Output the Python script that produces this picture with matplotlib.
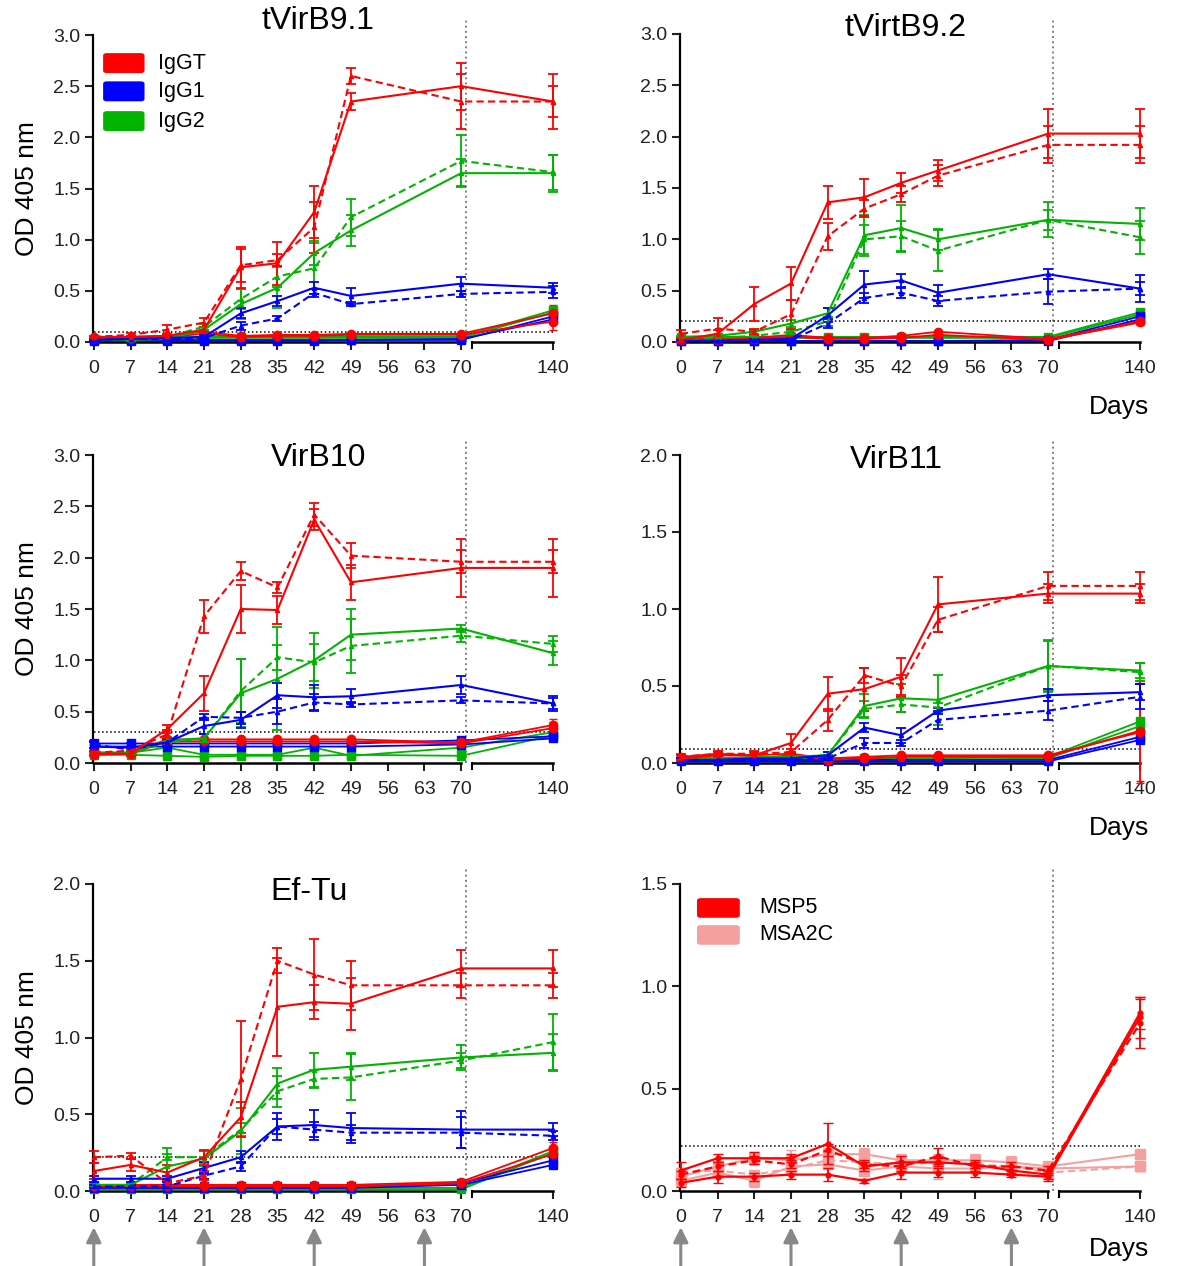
import matplotlib.pyplot as plt
from matplotlib.patches import FancyBboxPatch

plt.rcParams['font.family'] = ['Liberation Sans', 'DejaVu Sans']

# sampling days (day 140 sits after the axis break)
days = [0, 7, 14, 21, 28, 35, 42, 49, 70, 140]
days_msp = [0, 7, 14, 21, 28, 35, 42, 49, 56, 63, 70, 140]
tick_days = [0, 7, 14, 21, 28, 35, 42, 49, 56, 63, 70, 140]
boost_days = [0, 21, 42, 63]

# _a = solid group, _b = dashed group, _c1/_c2 = control animals
tvirb91 = {
    'IgGT_a': [0.05, 0.05, 0.06, 0.12, 0.73, 0.77, 1.27, 2.35, 2.50, 2.35],
    'IgGT_a_err': [0.01, 0.01, 0.02, 0.03, 0.20, 0.21, 0.25, 0.08, 0.23, 0.27],
    'IgGT_b': [0.05, 0.07, 0.12, 0.19, 0.75, 0.80, 1.12, 2.60, 2.35, 2.35],
    'IgGT_b_err': [0.01, 0.02, 0.05, 0.04, 0.16, 0.06, 0.25, 0.08, 0.27, 0.15],
    'IgG1_a': [0.02, 0.03, 0.04, 0.05, 0.28, 0.40, 0.53, 0.45, 0.57, 0.53],
    'IgG1_a_err': [0.01, 0.01, 0.01, 0.02, 0.05, 0.05, 0.06, 0.08, 0.07, 0.05],
    'IgG1_b': [0.02, 0.03, 0.03, 0.04, 0.16, 0.23, 0.48, 0.37, 0.47, 0.49],
    'IgG1_b_err': [0.01, 0.01, 0.01, 0.01, 0.04, 0.02, 0.04, 0.02, 0.03, 0.06],
    'IgG2_a': [0.02, 0.02, 0.03, 0.12, 0.37, 0.53, 0.87, 1.09, 1.65, 1.65],
    'IgG2_a_err': [0.01, 0.01, 0.01, 0.03, 0.15, 0.20, 0.12, 0.15, 0.14, 0.18],
    'IgG2_b': [0.02, 0.03, 0.05, 0.15, 0.42, 0.64, 0.72, 1.22, 1.77, 1.66],
    'IgG2_b_err': [0.01, 0.01, 0.01, 0.03, 0.10, 0.10, 0.25, 0.18, 0.25, 0.17],
    'IgGT_c1': [0.05, 0.05, 0.06, 0.10, 0.06, 0.07, 0.07, 0.08, 0.08, 0.28],
    'IgGT_c2': [0.04, 0.04, 0.05, 0.08, 0.05, 0.06, 0.06, 0.07, 0.07, 0.20],
    'IgG1_c1': [0.02, 0.02, 0.02, 0.02, 0.02, 0.02, 0.02, 0.02, 0.03, 0.22],
    'IgG1_c2': [0.01, 0.01, 0.01, 0.01, 0.01, 0.01, 0.01, 0.02, 0.02, 0.25],
    'IgG2_c1': [0.03, 0.03, 0.04, 0.05, 0.05, 0.05, 0.05, 0.05, 0.05, 0.31],
    'IgG2_c2': [0.02, 0.02, 0.03, 0.04, 0.04, 0.04, 0.04, 0.04, 0.04, 0.29],
    'ctrl_err_140': 0.08,
}

tvirb92 = {
    'IgGT_a': [0.02, 0.08, 0.37, 0.57, 1.36, 1.41, 1.55, 1.67, 2.03, 2.03],
    'IgGT_a_err': [0.02, 0.04, 0.17, 0.16, 0.16, 0.18, 0.10, 0.10, 0.24, 0.24],
    'IgGT_b': [0.08, 0.13, 0.10, 0.27, 1.03, 1.30, 1.44, 1.62, 1.92, 1.92],
    'IgGT_b_err': [0.04, 0.10, 0.03, 0.14, 0.13, 0.08, 0.08, 0.10, 0.18, 0.18],
    'IgG1_a': [0.01, 0.01, 0.02, 0.03, 0.26, 0.56, 0.60, 0.48, 0.66, 0.52],
    'IgG1_a_err': [0.01, 0.01, 0.01, 0.01, 0.07, 0.13, 0.06, 0.08, 0.05, 0.13],
    'IgG1_b': [0.01, 0.01, 0.02, 0.02, 0.18, 0.43, 0.48, 0.40, 0.49, 0.52],
    'IgG1_b_err': [0.01, 0.01, 0.01, 0.01, 0.04, 0.05, 0.05, 0.05, 0.12, 0.06],
    'IgG2_a': [0.05, 0.06, 0.10, 0.18, 0.28, 1.04, 1.11, 1.00, 1.19, 1.15],
    'IgG2_a_err': [0.01, 0.01, 0.02, 0.03, 0.05, 0.20, 0.22, 0.10, 0.17, 0.16],
    'IgG2_b': [0.03, 0.04, 0.06, 0.10, 0.20, 1.00, 1.03, 0.89, 1.19, 1.02],
    'IgG2_b_err': [0.01, 0.01, 0.01, 0.02, 0.04, 0.14, 0.15, 0.20, 0.10, 0.16],
    'IgGT_c1': [0.03, 0.03, 0.04, 0.07, 0.04, 0.04, 0.06, 0.10, 0.03, 0.20],
    'IgGT_c2': [0.02, 0.02, 0.03, 0.05, 0.03, 0.03, 0.04, 0.07, 0.02, 0.19],
    'IgG1_c1': [0.01, 0.01, 0.01, 0.01, 0.01, 0.01, 0.01, 0.01, 0.02, 0.25],
    'IgG1_c2': [0.01, 0.01, 0.01, 0.01, 0.01, 0.01, 0.01, 0.01, 0.01, 0.22],
    'IgG2_c1': [0.05, 0.05, 0.05, 0.05, 0.05, 0.05, 0.05, 0.05, 0.05, 0.29],
    'IgG2_c2': [0.03, 0.03, 0.04, 0.04, 0.04, 0.04, 0.04, 0.04, 0.04, 0.27],
    'ctrl_err_140': 0.02,
}

virb10 = {
    'IgGT_a': [0.09, 0.09, 0.33, 0.68, 1.50, 1.49, 2.37, 1.76, 1.90, 1.90],
    'IgGT_a_err': [0.02, 0.02, 0.04, 0.17, 0.23, 0.14, 0.10, 0.17, 0.28, 0.28],
    'IgGT_b': [0.10, 0.12, 0.28, 1.43, 1.87, 1.71, 2.42, 2.02, 1.96, 1.96],
    'IgGT_b_err': [0.02, 0.02, 0.04, 0.16, 0.09, 0.05, 0.11, 0.12, 0.11, 0.11],
    'IgG1_a': [0.16, 0.15, 0.20, 0.36, 0.42, 0.66, 0.64, 0.65, 0.76, 0.58],
    'IgG1_a_err': [0.04, 0.04, 0.03, 0.08, 0.08, 0.12, 0.12, 0.07, 0.09, 0.07],
    'IgG1_b': [0.18, 0.13, 0.20, 0.45, 0.44, 0.50, 0.59, 0.57, 0.61, 0.58],
    'IgG1_b_err': [0.03, 0.03, 0.03, 0.03, 0.06, 0.12, 0.08, 0.02, 0.03, 0.05],
    'IgG2_a': [0.10, 0.10, 0.22, 0.24, 0.68, 0.82, 1.00, 1.25, 1.31, 1.07],
    'IgG2_a_err': [0.02, 0.02, 0.03, 0.04, 0.33, 0.50, 0.27, 0.25, 0.03, 0.12],
    'IgG2_b': [0.10, 0.10, 0.20, 0.24, 0.70, 1.03, 0.98, 1.14, 1.24, 1.16],
    'IgG2_b_err': [0.02, 0.02, 0.03, 0.04, 0.31, 0.12, 0.18, 0.26, 0.06, 0.08],
    'IgGT_c1': [0.10, 0.10, 0.23, 0.23, 0.23, 0.23, 0.23, 0.23, 0.20, 0.37],
    'IgGT_c2': [0.08, 0.09, 0.21, 0.21, 0.21, 0.21, 0.21, 0.21, 0.19, 0.34],
    'IgG1_c1': [0.19, 0.19, 0.19, 0.19, 0.19, 0.19, 0.19, 0.19, 0.22, 0.26],
    'IgG1_c2': [0.16, 0.16, 0.16, 0.16, 0.16, 0.16, 0.16, 0.16, 0.18, 0.24],
    'IgG2_c1': [0.10, 0.10, 0.15, 0.08, 0.08, 0.08, 0.15, 0.07, 0.15, 0.30],
    'IgG2_c2': [0.08, 0.08, 0.07, 0.06, 0.07, 0.07, 0.07, 0.08, 0.07, 0.27],
    'ctrl_err_140': 0.06,
}

virb11 = {
    'IgGT_a': [0.03, 0.05, 0.05, 0.13, 0.45, 0.48, 0.56, 1.03, 1.10, 1.10],
    'IgGT_a_err': [0.02, 0.02, 0.02, 0.06, 0.11, 0.14, 0.12, 0.18, 0.06, 0.06],
    'IgGT_b': [0.04, 0.06, 0.06, 0.07, 0.28, 0.57, 0.50, 0.93, 1.15, 1.15],
    'IgGT_b_err': [0.02, 0.02, 0.02, 0.02, 0.07, 0.05, 0.07, 0.08, 0.09, 0.09],
    'IgG1_a': [0.02, 0.02, 0.03, 0.03, 0.05, 0.23, 0.18, 0.34, 0.44, 0.46],
    'IgG1_a_err': [0.01, 0.01, 0.01, 0.01, 0.02, 0.03, 0.05, 0.02, 0.04, 0.05],
    'IgG1_b': [0.02, 0.02, 0.02, 0.02, 0.03, 0.13, 0.13, 0.28, 0.34, 0.43],
    'IgG1_b_err': [0.01, 0.01, 0.01, 0.01, 0.01, 0.03, 0.02, 0.06, 0.06, 0.08],
    'IgG2_a': [0.02, 0.03, 0.04, 0.04, 0.05, 0.37, 0.42, 0.41, 0.63, 0.60],
    'IgG2_a_err': [0.01, 0.01, 0.01, 0.01, 0.02, 0.08, 0.09, 0.16, 0.17, 0.05],
    'IgG2_b': [0.02, 0.02, 0.03, 0.04, 0.05, 0.35, 0.38, 0.36, 0.63, 0.59],
    'IgG2_b_err': [0.01, 0.01, 0.01, 0.01, 0.02, 0.05, 0.05, 0.03, 0.16, 0.06],
    'IgGT_c1': [0.04, 0.06, 0.05, 0.06, 0.03, 0.04, 0.05, 0.05, 0.05, 0.20],
    'IgGT_c2': [0.03, 0.03, 0.03, 0.05, 0.02, 0.03, 0.04, 0.04, 0.04, 0.21],
    'IgG1_c1': [0.02, 0.02, 0.02, 0.02, 0.02, 0.02, 0.02, 0.02, 0.02, 0.17],
    'IgG1_c2': [0.01, 0.01, 0.01, 0.01, 0.01, 0.01, 0.01, 0.01, 0.01, 0.15],
    'IgG2_c1': [0.03, 0.03, 0.03, 0.03, 0.03, 0.03, 0.03, 0.03, 0.04, 0.27],
    'IgG2_c2': [0.02, 0.02, 0.02, 0.02, 0.02, 0.02, 0.02, 0.02, 0.03, 0.24],
    'ctrl_err_140': 0.33,
}

eftu = {
    'IgGT_a': [0.13, 0.17, 0.12, 0.22, 0.48, 1.20, 1.23, 1.22, 1.45, 1.45],
    'IgGT_a_err': [0.05, 0.04, 0.05, 0.05, 0.10, 0.32, 0.11, 0.17, 0.12, 0.12],
    'IgGT_b': [0.22, 0.23, 0.05, 0.10, 0.73, 1.50, 1.41, 1.34, 1.34, 1.34],
    'IgGT_b_err': [0.04, 0.02, 0.02, 0.03, 0.38, 0.08, 0.23, 0.16, 0.08, 0.08],
    'IgG1_a': [0.08, 0.08, 0.08, 0.15, 0.22, 0.42, 0.43, 0.41, 0.40, 0.40],
    'IgG1_a_err': [0.02, 0.02, 0.02, 0.04, 0.04, 0.09, 0.10, 0.10, 0.12, 0.04],
    'IgG1_b': [0.03, 0.03, 0.03, 0.10, 0.16, 0.42, 0.40, 0.38, 0.38, 0.36],
    'IgG1_b_err': [0.01, 0.01, 0.01, 0.02, 0.03, 0.05, 0.05, 0.05, 0.10, 0.03],
    'IgG2_a': [0.04, 0.04, 0.16, 0.21, 0.39, 0.70, 0.79, 0.81, 0.87, 0.90],
    'IgG2_a_err': [0.01, 0.01, 0.12, 0.05, 0.15, 0.10, 0.11, 0.09, 0.08, 0.12],
    'IgG2_b': [0.03, 0.04, 0.22, 0.22, 0.40, 0.65, 0.73, 0.74, 0.85, 0.97],
    'IgG2_b_err': [0.01, 0.01, 0.02, 0.04, 0.04, 0.10, 0.06, 0.15, 0.05, 0.18],
    'IgGT_c1': [0.04, 0.04, 0.04, 0.04, 0.04, 0.04, 0.04, 0.04, 0.06, 0.28],
    'IgGT_c2': [0.03, 0.03, 0.03, 0.03, 0.03, 0.03, 0.03, 0.03, 0.05, 0.24],
    'IgG1_c1': [0.03, 0.03, 0.03, 0.03, 0.03, 0.03, 0.03, 0.03, 0.05, 0.20],
    'IgG1_c2': [0.02, 0.02, 0.02, 0.02, 0.02, 0.02, 0.02, 0.02, 0.04, 0.17],
    'IgG2_c1': [0.02, 0.02, 0.02, 0.02, 0.02, 0.02, 0.02, 0.02, 0.02, 0.26],
    'IgG2_c2': [0.01, 0.01, 0.01, 0.01, 0.01, 0.01, 0.01, 0.01, 0.01, 0.25],
    'ctrl_err_140': 0.08,
}

# MSP5 / MSA2C control antigens (12 time points)
msp5_a = [0.10, 0.16, 0.16, 0.16, 0.23, 0.12, 0.14, 0.14, 0.13, 0.10, 0.08, 0.87]
msp5_a_err = [0.04, 0.02, 0.03, 0.02, 0.10, 0.02, 0.03, 0.02, 0.02, 0.02, 0.02, 0.08]
msp5_b = [0.04, 0.07, 0.07, 0.08, 0.08, 0.05, 0.09, 0.09, 0.09, 0.08, 0.07, 0.85]
msp5_b_err = [0.02, 0.03, 0.02, 0.02, 0.03, 0.01, 0.03, 0.02, 0.02, 0.01, 0.02, 0.10]
msp5_c = [0.08, 0.12, 0.15, 0.13, 0.20, 0.13, 0.12, 0.17, 0.12, 0.12, 0.10, 0.82]
msp5_c_err = [0.02, 0.02, 0.02, 0.02, 0.03, 0.02, 0.02, 0.04, 0.02, 0.02, 0.02, 0.12]
msa2c_a = [0.07, 0.12, 0.16, 0.15, 0.18, 0.18, 0.15, 0.15, 0.15, 0.14, 0.12, 0.18]
msa2c_a_err = [0.03, 0.02, 0.03, 0.05, 0.03, 0.03, 0.03, 0.03, 0.03, 0.03, 0.02, 0.02]
msa2c_b = [0.05, 0.09, 0.05, 0.12, 0.13, 0.10, 0.12, 0.11, 0.11, 0.12, 0.11, 0.12]
msa2c_b_err = [0.02, 0.02, 0.03, 0.02, 0.02, 0.02, 0.02, 0.05, 0.02, 0.02, 0.02, 0.02]
msa2c_c = [0.09, 0.10, 0.08, 0.11, 0.15, 0.14, 0.13, 0.14, 0.13, 0.12, 0.09, 0.12]
msa2c_c_err = [0.02, 0.02, 0.02, 0.02, 0.02, 0.02, 0.02, 0.02, 0.02, 0.02, 0.02, 0.02]

cutoffs = {'tVirB9.1': 0.095, 'tVirtB9.2': 0.20, 'VirB10': 0.30,
           'VirB11': 0.09, 'Ef-Tu': 0.22, 'MSP5': 0.22}

RED, BLUE, GREEN, PINK = '#ff0000', '#0000ff', '#00b400', '#f5a0a0'
iso_colors = {'IgGT': RED, 'IgG1': BLUE, 'IgG2': GREEN}
DASH = (0, (3.5, 2))

X140 = 87.5      # where day 140 is drawn after the break
W, H = 1179, 1266
AX_W = 460


def xpos(ds):
    return [d if d <= 70 else X140 for d in ds]


def make_axes(left, top, bottom, ymax, title=None, tx=0.49, ty=1.04,
              ylabel=True, days_label=False):
    ax = fig.add_axes([left / W, 1 - bottom / H, AX_W / W, (bottom - top) / H])
    ax.set_xlim(-0.15, X140)
    ax.set_ylim(0, ymax)
    ax.set_yticks([v * 0.5 for v in range(int(ymax / 0.5) + 1)])
    ax.set_yticklabels([f'{v * 0.5:.1f}' for v in range(int(ymax / 0.5) + 1)])
    ax.set_xticks(xpos(tick_days))
    ax.set_xticklabels([str(d) for d in tick_days])
    for s in ('top', 'right', 'bottom'):
        ax.spines[s].set_visible(False)
    ax.spines['left'].set_linewidth(1.6)
    ax.tick_params(direction='out', length=6, width=1.5, labelsize=14,
                   colors='#222222', pad=3)
    ax.tick_params(axis='x', pad=7)
    tr = ax.get_xaxis_transform()
    # broken x axis
    ax.plot([0, 70], [0, 0], transform=tr, color='k', lw=1.8, clip_on=False)
    ax.plot([72.0, X140], [0, 0], transform=tr, color='k', lw=1.8, clip_on=False)
    ax.plot([72.0, 72.0], [0, -0.02], transform=tr, color='k', lw=1.5, clip_on=False)
    ax.plot([70.9, 70.9], [0, 1.05], transform=tr, color='gray', ls=':', lw=1.4,
            clip_on=False, zorder=1)
    if title:
        ax.text(tx, ty, title, transform=ax.transAxes, ha='center', va='center',
                fontsize=23)
    if ylabel:
        ax.text(-0.143, 0.5, 'OD 405 nm', transform=ax.transAxes, rotation=90,
                ha='center', va='center', fontsize=19)
    if days_label:
        ax.text(1.02, -0.21, 'Days', transform=ax.transAxes, ha='right',
                va='center', fontsize=19)
    return ax


def draw_panel(ax, d, cut):
    x = xpos(days)
    ax.plot([0, X140], [cut, cut], color='k', ls=':', lw=1.1, zorder=1)
    for iso in ('IgG2', 'IgG1', 'IgGT'):
        c = iso_colors[iso]
        mk = 'o' if iso == 'IgGT' else 's'
        for key in ('c1', 'c2'):
            err = [0.01] * (len(days) - 1) + [d['ctrl_err_140'] if iso == 'IgGT' else 0.02]
            ax.errorbar(x, d[f'{iso}_{key}'], yerr=err, color=c, lw=1.3,
                        marker=mk, ms=6, capsize=3, elinewidth=1.1,
                        clip_on=False, zorder=3)
    for iso in ('IgG2', 'IgG1', 'IgGT'):
        c = iso_colors[iso]
        for key, ls in (('a', '-'), ('b', DASH)):
            ax.errorbar(x, d[f'{iso}_{key}'], yerr=d[f'{iso}_{key}_err'],
                        color=c, ls=ls, lw=1.5, marker='^', ms=3,
                        capsize=3.8, capthick=1.3, elinewidth=1.3,
                        clip_on=False, zorder=4)


def legend_boxes(ax, items, x0, y_tops, hgt, wid, tx):
    for (label, color), yt in zip(items, y_tops):
        box = FancyBboxPatch((x0, yt - hgt), wid, hgt, transform=ax.transAxes,
                             boxstyle='round,pad=0,rounding_size=0.008',
                             facecolor=color, edgecolor='none', clip_on=False)
        ax.add_patch(box)
        ax.text(tx, yt - hgt / 2, label, transform=ax.transAxes, ha='left',
                va='center', fontsize=15.5)


def boost_arrows(ax):
    for b in boost_days:
        ax.annotate('', xy=(b, -0.118), xytext=(b, -0.245),
                    xycoords=('data', 'axes fraction'),
                    textcoords=('data', 'axes fraction'),
                    arrowprops=dict(arrowstyle='-|>', color='#888888', lw=2.2,
                                    mutation_scale=22, shrinkA=0, shrinkB=0),
                    annotation_clip=False)


fig = plt.figure(figsize=(W / 100, H / 100), dpi=100)

ax1 = make_axes(93, 35, 342, 3.0, 'tVirB9.1', ty=1.045)
draw_panel(ax1, tvirb91, cutoffs['tVirB9.1'])
legend_boxes(ax1, [('IgGT', RED), ('IgG1', BLUE), ('IgG2', GREEN)],
             0.022, [0.941, 0.849, 0.752], 0.065, 0.09, 0.142)

ax2 = make_axes(680, 34, 342, 3.0, 'tVirtB9.2', ty=1.02, ylabel=False,
                days_label=True)
draw_panel(ax2, tvirb92, cutoffs['tVirtB9.2'])

ax3 = make_axes(93, 455, 763, 3.0, 'VirB10', ty=0.99)
draw_panel(ax3, virb10, cutoffs['VirB10'])

ax4 = make_axes(680, 455, 763, 2.0, 'VirB11', tx=0.47, ty=0.985, ylabel=False,
                days_label=True)
draw_panel(ax4, virb11, cutoffs['VirB11'])

ax5 = make_axes(93, 884, 1191, 2.0, 'Ef-Tu', tx=0.47, ty=0.975)
draw_panel(ax5, eftu, cutoffs['Ef-Tu'])
boost_arrows(ax5)

ax6 = make_axes(680, 884, 1191, 1.5, ylabel=False)
ax6.text(1.02, -0.19, 'Days', transform=ax6.transAxes, ha='right',
         va='center', fontsize=19)
xm = xpos(days_msp)
ax6.plot([0, X140], [cutoffs['MSP5']] * 2, color='k', ls=':', lw=1.1, zorder=1)
for m, e, ls in ((msa2c_a, msa2c_a_err, '-'), (msa2c_b, msa2c_b_err, '-'),
                 (msa2c_c, msa2c_c_err, DASH)):
    ax6.errorbar(xm, m, yerr=e, color=PINK, ls=ls, lw=1.5, marker='s', ms=7.5,
                 capsize=3.8, elinewidth=1.3, clip_on=False, zorder=3)
for m, e, ls in ((msp5_a, msp5_a_err, '-'), (msp5_b, msp5_b_err, '-'),
                 (msp5_c, msp5_c_err, DASH)):
    ax6.errorbar(xm, m, yerr=e, color=RED, ls=ls, lw=1.6, marker='o', ms=3.5,
                 capsize=3.8, elinewidth=1.3, clip_on=False, zorder=4)
legend_boxes(ax6, [('MSP5', RED), ('MSA2C', PINK)], 0.037, [0.954, 0.866],
             0.064, 0.093, 0.173)
boost_arrows(ax6)

fig.savefig('out.png', dpi=100)
